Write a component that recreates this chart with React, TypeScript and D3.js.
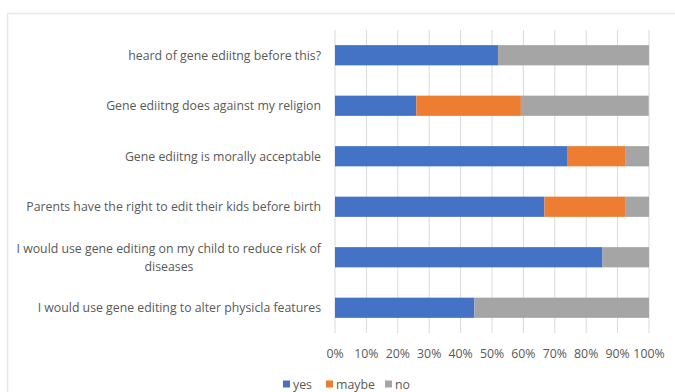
import React from "react";
import * as d3 from "d3";

const categories = [
  "heard of gene ediitng before this?",
  "Gene ediitng does against my religion",
  "Gene ediitng is morally acceptable",
  "Parents have the right to edit their kids before birth",
  "I would use gene editing on my child to reduce risk of diseases",
  "I would use gene editing to alter physicla features",
];
const labelLines = [
  ["heard of gene ediitng before this?"],
  ["Gene ediitng does against my religion"],
  ["Gene ediitng is morally acceptable"],
  ["Parents have the right to edit their kids before birth"],
  ["I would use gene editing on my child to reduce risk of", "diseases"],
  ["I would use gene editing to alter physicla features"],
];
const seriesNames = ["yes", "maybe", "no"];
const yesValues = [51.9, 25.9, 74.1, 66.7, 85.2, 44.4];
const maybeValues = [0, 33.3, 18.5, 25.9, 0, 0];
const noValues = [48.1, 40.7, 7.4, 7.4, 14.8, 55.6];
const colors = ["#4472C4", "#ED7D31", "#A5A5A5"];
const tickValues = [0, 10, 20, 30, 40, 50, 60, 70, 80, 90, 100];

const W = 675;
const H = 392;
const FONT = "Open Sans, Liberation Sans, sans-serif";
const FS = 12.3;

export default function App() {
  const rows = categories.map((c, i) => ({
    cat: c,
    yes: yesValues[i],
    maybe: maybeValues[i],
    no: noValues[i],
  }));
  const stack = d3.stack<any>().keys(seriesNames);
  const layers = stack(rows);
  const x = d3.scaleLinear().domain([0, 100]).range([335, 649]);
  const y = d3
    .scaleBand<string>()
    .domain(categories)
    .range([30, 333])
    .paddingInner(0.6)
    .paddingOuter(0.3);

  const legendItems = [
    { name: "yes", x: 283 },
    { name: "maybe", x: 326 },
    { name: "no", x: 385 },
  ];

  return (
    <svg
      width={W}
      height={H}
      style={{ position: "absolute", left: 0, top: 0, background: "#fff" }}
      fontFamily={FONT}
    >
      <rect x={0} y={0} width={W} height={H} fill="#fff" />
      <path d={`M7.5,${H} L7.5,13.5 L${W},13.5`} fill="none" stroke="#e8e8e8" strokeWidth={1.5} />
      {tickValues.map((t) => (
        <line
          key={t}
          x1={x(t)}
          x2={x(t)}
          y1={30}
          y2={333}
          stroke="#d9d9d9"
          strokeWidth={1}
        />
      ))}
      {layers.map((layer, li) => (
        <g key={layer.key} fill={colors[li]}>
          {layer.map((d, i) => (
            <rect
              key={i}
              x={x(d[0])}
              width={Math.max(0, x(d[1]) - x(d[0]))}
              y={y(categories[i])!}
              height={y.bandwidth()}
            />
          ))}
        </g>
      ))}
      {categories.map((c, i) => {
        const lines = labelLines[i];
        const cy = y(c)! + y.bandwidth() / 2;
        const lh = 18;
        return lines.length === 1 ? (
          <text
            key={c}
            x={321}
            y={cy}
            textAnchor="end"
            dominantBaseline="central"
            fontSize={FS}
            fill="#595959"
          >
            {lines[0]}
          </text>
        ) : (
          <g key={c}>
            <text
              x={321}
              y={cy - lh / 2}
              textAnchor="end"
              dominantBaseline="central"
              fontSize={FS}
              fill="#595959"
            >
              {lines[0]}
            </text>
            <text
              x={169}
              y={cy + lh / 2}
              textAnchor="middle"
              dominantBaseline="central"
              fontSize={FS}
              fill="#595959"
            >
              {lines[1]}
            </text>
          </g>
        );
      })}
      {tickValues.map((t) => (
        <text
          key={t}
          x={x(t)}
          y={353}
          textAnchor="middle"
          dominantBaseline="central"
          fontSize={FS}
          fill="#595959"
        >
          {t + "%"}
        </text>
      ))}
      {legendItems.map((l, i) => (
        <g key={l.name}>
          <rect x={l.x} y={380.5} width={7} height={7} fill={colors[i]} />
          <text
            x={l.x + 10}
            y={384}
            dominantBaseline="central"
            fontSize={FS}
            fill="#595959"
          >
            {l.name}
          </text>
        </g>
      ))}
    </svg>
  );
}
